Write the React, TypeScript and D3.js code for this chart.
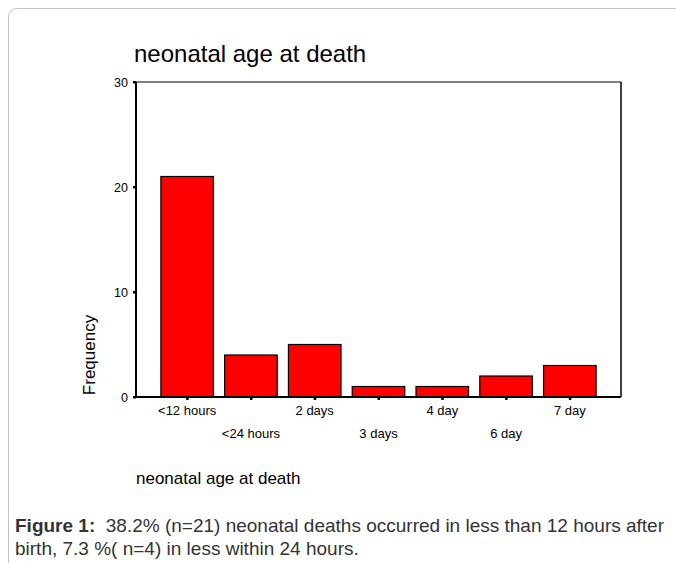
import * as d3 from 'd3';
import React from 'react';

// data
const categories = ['<12 hours', '<24 hours', '2 days', '3 days', '4 day', '6 day', '7 day'];
const frequency = [21, 4, 5, 1, 1, 2, 3];
const yTicks = [0, 10, 20, 30];

const W = 676;
const H = 563;
const plot = { left: 136, right: 621, top: 82, bottom: 397 };
const font = 'Arial, "Liberation Sans", Helvetica, sans-serif';

export default function App() {
  const x = d3
    .scaleBand()
    .domain(categories)
    .range([plot.left, plot.right])
    .paddingInner(0.176)
    .paddingOuter(0.39);

  const y = d3.scaleLinear().domain([0, 30]).range([plot.bottom, plot.top]);

  return (
    <svg
      width={W}
      height={H}
      style={{ position: 'absolute', left: 0, top: 0, background: '#fff' }}
      fontFamily={font}
    >
      {/* outer frame, runs off the page to the right and bottom */}
      <rect x={8.5} y={8.5} width={720} height={620} rx={8} fill="#fff" stroke="#c4c4c4" />

      <text x={134} y={62} fontSize={24} fill="#000">
        neonatal age at death
      </text>

      {/* bars */}
      {frequency.map((v, i) => (
        <rect
          key={categories[i]}
          x={x(categories[i])}
          y={y(v)}
          width={x.bandwidth()}
          height={y(0) - y(v)}
          fill="#ff0000"
          stroke="#000"
          strokeWidth={1.2}
        />
      ))}

      {/* plot frame */}
      <line x1={plot.left} x2={plot.right} y1={plot.top} y2={plot.top} stroke="#000" strokeWidth={1.2} />
      <line x1={plot.right} x2={plot.right} y1={plot.top} y2={plot.bottom} stroke="#000" strokeWidth={1.5} />
      <line x1={plot.left} x2={plot.left} y1={plot.top} y2={plot.bottom + 1} stroke="#000" strokeWidth={2} />
      <line x1={plot.left} x2={plot.right} y1={plot.bottom} y2={plot.bottom} stroke="#000" strokeWidth={2} />

      {/* y axis */}
      {yTicks.map((t) => (
        <g key={t}>
          <rect x={plot.left - 3} y={y(t) - 1} width={3} height={2.5} fill="#000" />
          <text x={plot.left - 8} y={y(t) + 4.5} fontSize={12.5} textAnchor="end" fill="#000">
            {t}
          </text>
        </g>
      ))}
      <text
        transform={`translate(95, 355) rotate(-90)`}
        fontSize={17}
        textAnchor="middle"
        fill="#000"
      >
        Frequency
      </text>

      {/* x axis */}
      {categories.map((c, i) => {
        const cx = (x(c) ?? 0) + x.bandwidth() / 2;
        return (
          <g key={c}>
            <rect x={cx - 1} y={plot.bottom} width={2.5} height={3} fill="#000" />
            <text x={cx} y={i % 2 === 0 ? 415 : 438} fontSize={13} textAnchor="middle" fill="#000">
              {c}
            </text>
          </g>
        );
      })}
      <text x={136} y={484} fontSize={17} fill="#000">
        neonatal age at death
      </text>

      {/* caption */}
      <text x={15} y={532} fontSize={19} fill="#333">
        <tspan fontWeight="bold">Figure 1:</tspan>
        <tspan>{'\u00a0 38.2% (n=21) neonatal deaths occurred in less than 12 hours after'}</tspan>
      </text>
      <text x={15} y={555} fontSize={19} fill="#333">
        birth, 7.3 %( n=4) in less within 24 hours.
      </text>
    </svg>
  );
}
